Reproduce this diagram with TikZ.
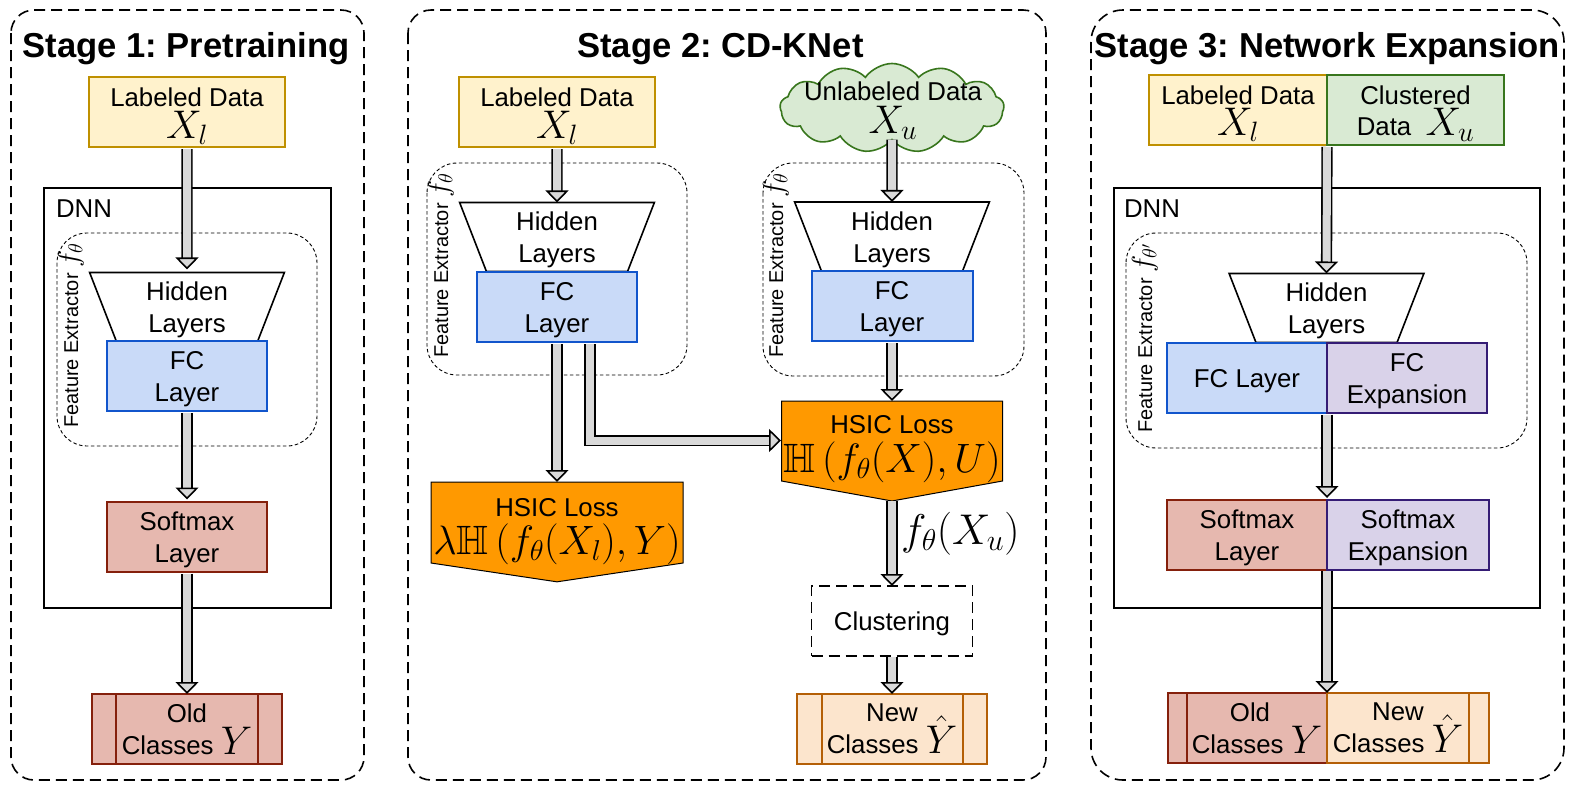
\documentclass[tikz,border=0pt]{standalone}
\usepackage{fix-cm}
\usepackage{amssymb}
\usepackage{fontspec}
\setmainfont{Liberation Sans}
\usetikzlibrary{arrows.meta,shapes.geometric,shapes.symbols}
\definecolor{yellowfill}{HTML}{FFF2CC}
\definecolor{yellowline}{HTML}{BF9000}
\definecolor{bluefill}{HTML}{C9DAF8}
\definecolor{blueline}{HTML}{1155CC}
\definecolor{redfill}{HTML}{E6B8AF}
\definecolor{redline}{HTML}{85200C}
\definecolor{purplefill}{HTML}{D9D2E9}
\definecolor{purpleline}{HTML}{351C75}
\definecolor{peachfill}{HTML}{FCE5CD}
\definecolor{peachline}{HTML}{B45F06}
\definecolor{greenfill}{HTML}{D9EAD3}
\definecolor{greenline}{HTML}{38761D}
\definecolor{lossfill}{HTML}{FF9900}
\definecolor{arrowfill}{HTML}{D9D9D9}
\newcommand{\bigmath}[2][40]{{\fontsize{#1}{#1}\selectfont$#2$}}
\newcommand{\textdownamount}{0pt}
\tikzset{
  textdown/.code={\renewcommand{\textdownamount}{#1}},
  base/.style={font=\fontsize{25.8}{32}\selectfont,align=center,inner sep=0pt,outer sep=0pt,line width=1.6pt,
    execute at begin node={\rule{0pt}{\textdownamount}}},
  stagebox/.style={draw,line width=1.6pt,rounded corners=23pt,dash pattern=on 11pt off 6pt},
  featbox/.style={draw,line width=0.9pt,rounded corners=30pt,dash pattern=on 3.5pt off 2.5pt},
  dnnbox/.style={draw,line width=1.6pt},
  title/.style={font=\fontsize{34.6}{40}\selectfont\bfseries\frenchspacing,inner sep=0pt,anchor=base},
  feattext/.style={font=\fontsize{20}{24}\selectfont,rotate=90,inner sep=0pt,anchor=base west},
  hidden/.style={base,textdown=57pt,draw,fill=white,trapezium,shape border rotate=180,trapezium stretches=true,
    trapezium left angle=76,trapezium right angle=76,minimum width=195pt,minimum height=69pt},
  layerbox/.style={base,textdown=57pt,line width=2pt,draw=#1line,fill=#1fill,minimum height=70pt},
  lossbox/.style={base,draw,line width=1pt,fill=lossfill,signal,signal to=south,signal from=nowhere},
  blockarrow/.style={line width=1.6pt,double=arrowfill,double distance=8pt,
    -{Triangle[open,fill=arrowfill,length=12pt,width=23pt,line width=1.6pt]}},
  rawtext/.style={base,draw=none,fill=none},
}
\begin{document}
\begin{tikzpicture}[x=1pt,y=-1pt]
  \useasboundingbox (0,0) rectangle (1572,788);
  \begin{scope}[shift={(0,0)}]
    \draw[stagebox] (11,10) rectangle (364,780);
    \node[title] (titleone) at (186,57) {Stage 1: Pretraining};
    \draw[dnnbox] (44,188) rectangle (331,608);
    \node[rawtext,anchor=base west] (dnnone) at (56,217) {DNN};
    \draw[featbox] (57,233) rectangle (317,446);
    \node[feattext] (featone) at (78,428) {Feature Extractor \bigmath[29]{f_\theta}};
    \node[layerbox=yellow,textdown=59pt,minimum width=196pt] (labelone) at (187,112) {Labeled Data\\[0pt]\bigmath{X_l}};
    \node[hidden] (hiddenone) at (187,307) {Hidden\\Layers};
    \node[layerbox=blue,minimum width=160pt] (fcone) at (187,376) {FC\\Layer};
    \node[layerbox=red,minimum width=160pt] (softone) at (187,536.5) {Softmax\\Layer};
    \node[layerbox=red,textdown=0pt,minimum width=190pt] (oldouter) at (187,729) {};
    \node[layerbox=red,textdown=0pt,minimum width=142pt] (oldone) at (187,729) {Old\\Classes \smash{\bigmath{Y}}};
    \draw[blockarrow,shorten >=3pt] (labelone.south) ++(0,2) -- (hiddenone.north);
    \draw[blockarrow,shorten >=2pt] (fcone.south) ++(0,2) -- (softone.north);
    \draw[blockarrow] (softone.south) ++(0,2) -- (oldouter.north);
  \end{scope}
  \begin{scope}[shift={(0,0)}]
    \draw[stagebox] (408,10) rectangle (1046,780);
    \node[title] (titletwo) at (720.5,57) {Stage 2: CD-KNet};
    \draw[featbox] (427,163) rectangle (687,375);
    \node[feattext] (featleft) at (448,358) {Feature Extractor \bigmath[29]{f_\theta}};
    \draw[featbox] (763,163) rectangle (1024,376);
    \node[feattext] (featright) at (783,358) {Feature Extractor \bigmath[29]{f_\theta}};
    \node[layerbox=yellow,textdown=59pt,minimum width=196pt] (labeltwo) at (557,112) {Labeled Data\\[0pt]\bigmath{X_l}};
    \node[base,draw=greenline,fill=greenfill,cloud,cloud puffs=13,cloud puff arc=110,aspect=2.6,
      minimum width=224pt,minimum height=89pt] (unlabel) at (892,108) {};
    \node[rawtext] (unlabeltext) at (893,111) {Unlabeled Data\\[1pt]\bigmath{X_u}};
    \node[hidden] (hiddenleft) at (557,237) {Hidden\\Layers};
    \node[layerbox=blue,minimum width=160pt] (fcleft) at (557,307) {FC\\Layer};
    \node[hidden] (hiddenright) at (892,236.5) {Hidden\\Layers};
    \node[layerbox=blue,minimum width=161pt] (fcright) at (892,306) {FC\\Layer};
    \node[lossbox,signal pointer angle=163,minimum width=252pt,minimum height=81pt] (lossleft) at (557,522.5) {};
    \node[rawtext] (losslefttext) at (557,531.5) {HSIC Loss\\[6pt]\bigmath[41]{\lambda\mathbb{H}\left(f_\theta(X_l),Y\right)}};
    \node[lossbox,signal pointer angle=159.5,minimum width=221pt,minimum height=80pt] (lossright) at (892,441) {};
    \node[rawtext] (lossrighttext) at (892,449) {HSIC Loss\\[7.5pt]\bigmath[41]{\mathbb{H}\left(f_\theta(X),U\right)}};
    \node[base,textdown=25pt,draw,dash pattern=on 11pt off 6pt,minimum width=161pt,minimum height=70pt] (cluster) at (892,621) {Clustering};
    \node[layerbox=peach,textdown=0pt,minimum width=190pt] (newouter) at (892,729) {};
    \node[layerbox=peach,textdown=0pt,minimum width=141pt] (newtwo) at (892,729) {New\\Classes \smash{\bigmath{\hat{Y}}}};
    \coordinate (elbowstart) at (590,344);
    \coordinate (elbowend) at (781,440.5);
    \draw[blockarrow] (labeltwo.south) ++(0,2) -- (hiddenleft.north);
    \draw[blockarrow] (unlabel.south) -- (hiddenright.north);
    \draw[blockarrow] (fcleft.south) ++(0,2) -- (lossleft.north);
    \draw[blockarrow] (elbowstart) |- (elbowend);
    \draw[blockarrow] (fcright.south) ++(0,2) -- (lossright.north);
    \draw[blockarrow] (lossright.south) -- node[rawtext,anchor=west,xshift=9pt,yshift=10pt] (fxu) {\bigmath[43]{f_\theta(X_u)}} (cluster.north);
    \draw[blockarrow] (cluster.south) ++(0,1) -- (newouter.north);
  \end{scope}
  \begin{scope}[shift={(0,0)}]
    \draw[stagebox,rounded corners=32pt] (1091,10) rectangle (1564,780);
    \node[title] (titlethree) at (1327.5,57) {Stage 3: Network Expansion};
    \draw[dnnbox] (1114,188) rectangle (1540,608);
    \node[rawtext,anchor=base west] (dnnthree) at (1124,217) {DNN};
    \draw[featbox] (1126,233) rectangle (1527,448);
    \node[feattext] (featthree) at (1152,433) {Feature Extractor \bigmath[29]{f_{\theta'}}};
    \node[layerbox=yellow,minimum width=178pt] (labelthree) at (1238,110) {Labeled Data\\[-1pt]\bigmath{X_l}};
    \node[layerbox=green,minimum width=177pt] (clusterdata) at (1415.5,110) {Clustered\\[-1pt]Data\ \ \bigmath{X_u}};
    \node[hidden] (hiddenthree) at (1326.5,308) {Hidden\\Layers};
    \node[layerbox=blue,textdown=25pt,minimum width=160pt] (fcthree) at (1247,377.5) {FC Layer};
    \node[layerbox=purple,minimum width=160pt] (fcexp) at (1407,377.5) {FC\\Expansion};
    \node[layerbox=red,minimum width=160pt] (softthree) at (1247,535) {Softmax\\Layer};
    \node[layerbox=purple,minimum width=162pt] (softexp) at (1408,535) {Softmax\\Expansion};
    \node[layerbox=red,textdown=0pt,minimum width=159pt] (oldouterthree) at (1247.5,728) {};
    \node[layerbox=red,textdown=0pt,minimum width=140pt] (oldthree) at (1257,728) {\hspace*{-14pt}Old\\Classes \smash{\bigmath{Y}}};
    \node[layerbox=peach,textdown=0pt,minimum width=162pt] (newouterthree) at (1408,728) {};
    \node[layerbox=peach,textdown=0pt,minimum width=142pt] (newthree) at (1398,728) {New\\Classes \smash{\bigmath{\hat{Y}}}};
    \draw[blockarrow] (labelthree.south east) ++(0,2) -- (hiddenthree.north);
    \draw[blockarrow,shorten >=2pt] (fcexp.south west) ++(0,2) -- (softexp.north west);
    \draw[blockarrow] (softexp.south west) ++(0,1) -- (newouterthree.north west);
  \end{scope}
\end{tikzpicture}
\end{document}
